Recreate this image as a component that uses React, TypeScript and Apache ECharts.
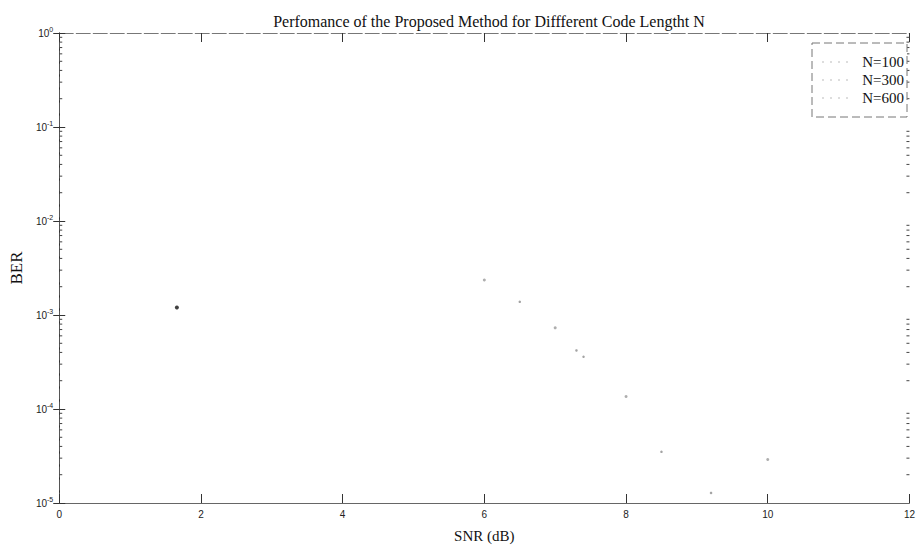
import React, { useEffect, useRef } from "react";
import * as echarts from "echarts";

const titleText = "Perfomance of the Proposed Method for Diffferent Code Lengtht N";
const xName = "SNR (dB)";
const yName = "BER";
const legendNames = ["N=100", "N=300", "N=600"];

const snr100 = [6, 7, 8, 10];
const ber100 = [2.36e-3, 7.3e-4, 1.36e-4, 2.9e-5];
const snr300 = [6.5, 7.3, 7.4, 8.5, 9.2];
const ber300 = [1.38e-3, 4.2e-4, 3.6e-4, 3.5e-5, 1.28e-5];
const snr600 = [1.66];
const ber600 = [1.2e-3];

const xMin = 0;
const xMax = 12;
const xStep = 2;
const yMin = 1e-5;
const yMax = 1;
const decades = [-5, -4, -3, -2, -1];
const minorMult = [2, 3, 4, 5, 6, 7, 8, 9];

const zip = (xs: number[], ys: number[]) => xs.map((x, i) => [x, ys[i]]);

export default function App() {
  const ref = useRef<HTMLDivElement>(null);
  useEffect(() => {
    const chart = echarts.init(ref.current!, null, { renderer: "svg" });
    const minorVals: number[][] = [];
    decades.forEach((d) => minorMult.forEach((m) => minorVals.push([xMin, m * Math.pow(10, d)])));
    const serif = "'Liberation Serif', 'Times New Roman', serif";
    const sans = "'Liberation Sans', Arial, sans-serif";
    const legendEls: any[] = [];
    legendNames.forEach((n, i) => {
      legendEls.push({
        type: "line",
        z: 101,
        shape: { x1: 822, y1: 62 + i * 18, x2: 848, y2: 62 + i * 18 },
        style: { stroke: "#bbb", lineWidth: 1, lineDash: [2, 6] },
      });
      legendEls.push({
        type: "text",
        z: 102,
        x: 904,
        y: 62 + i * 18,
        style: {
          text: n,
          fontFamily: serif,
          fontSize: 15,
          fill: "#111",
          align: "right",
          verticalAlign: "middle",
        },
      });
    });
    const option: any = {
      animation: false,
      backgroundColor: "#ffffff",
      title: {
        text: titleText,
        left: 484,
        textAlign: "center",
        top: 8,
        textStyle: { fontFamily: serif, fontSize: 16, fontWeight: "normal", color: "#111" },
      },
      grid: { left: 57, right: 6, top: 33, bottom: 43, containLabel: false },
      xAxis: [
        {
          type: "value",
          min: xMin,
          max: xMax,
          interval: xStep,
          position: "bottom",
          name: xName,
          nameLocation: "middle",
          nameGap: 25,
          nameTextStyle: { fontFamily: serif, fontSize: 15, color: "#111" },
          axisLine: { lineStyle: { color: "#666", width: 1 } },
          axisTick: { inside: true, length: 9, lineStyle: { color: "#333" } },
          axisLabel: { margin: 6, fontFamily: sans, fontSize: 10, color: "#222" },
          splitLine: { show: false },
        },
        {
          type: "value",
          min: xMin,
          max: xMax,
          interval: xStep,
          position: "top",
          axisLine: { lineStyle: { color: "#777", width: 1, type: [14, 3] } },
          axisTick: { inside: true, length: 9, lineStyle: { color: "#333" } },
          axisLabel: { show: false },
          splitLine: { show: false },
        },
      ],
      yAxis: [
        {
          type: "log",
          logBase: 10,
          min: yMin,
          max: yMax,
          interval: 1,
          position: "left",
          name: yName,
          nameLocation: "middle",
          nameGap: 29,
          nameTextStyle: { fontFamily: serif, fontSize: 17, color: "#111" },
          axisLine: { lineStyle: { color: "#333", width: 1 } },
          axisTick: { inside: true, length: 6, lineStyle: { color: "#333" } },
          axisLabel: {
            margin: 6,
            formatter: (v: number) => `{a|10}{b|${Math.round(Math.log10(v))}}`,
            rich: {
              a: { fontFamily: sans, fontSize: 10, color: "#222", lineHeight: 14 },
              b: { fontFamily: sans, fontSize: 7, color: "#222", verticalAlign: "top", lineHeight: 8 },
            },
          },
          splitLine: { show: false },
        },
        {
          type: "log",
          logBase: 10,
          min: yMin,
          max: yMax,
          interval: 1,
          position: "right",
          axisLine: { lineStyle: { color: "#555", width: 1, type: [10, 3] } },
          axisTick: { inside: true, length: 6, lineStyle: { color: "#333" } },
          axisLabel: { show: false },
          splitLine: { show: false },
        },
      ],
      series: [
        {
          name: "minor",
          type: "custom",
          xAxisIndex: 0,
          yAxisIndex: 0,
          silent: true,
          clip: false,
          data: minorVals,
          renderItem: (_p: any, api: any) => {
            const v = api.value(1);
            const l = api.coord([xMin, v]);
            const r = api.coord([xMax, v]);
            return {
              type: "group",
              children: [
                { type: "line", shape: { x1: l[0], y1: l[1], x2: l[0] + 3, y2: l[1] }, style: { stroke: "#444", lineWidth: 1 } },
                { type: "line", shape: { x1: r[0], y1: r[1], x2: r[0] - 3, y2: r[1] }, style: { stroke: "#444", lineWidth: 1 } },
              ],
            };
          },
        },
        {
          name: legendNames[0],
          type: "scatter",
          symbol: "circle",
          symbolSize: 3,
          itemStyle: { color: "#9a9a9a" },
          data: zip(snr100, ber100),
        },
        {
          name: legendNames[1],
          type: "scatter",
          symbol: "circle",
          symbolSize: 2.5,
          itemStyle: { color: "#8c8c8c" },
          data: zip(snr300, ber300),
        },
        {
          name: legendNames[2],
          type: "scatter",
          symbol: "circle",
          symbolSize: 4,
          itemStyle: { color: "#111" },
          data: zip(snr600, ber600),
        },
      ],
      graphic: [
        {
          type: "rect",
          z: 100,
          shape: { x: 812, y: 43, width: 95, height: 74 },
          style: { fill: "#fff", stroke: "#777", lineWidth: 1, lineDash: [8, 4] },
        },
        ...legendEls,
      ],
    };
    chart.setOption(option);
    return () => chart.dispose();
  }, []);
  return <div ref={ref} style={{ position: "fixed", left: 0, top: 0, width: 918, height: 548 }} />;
}
